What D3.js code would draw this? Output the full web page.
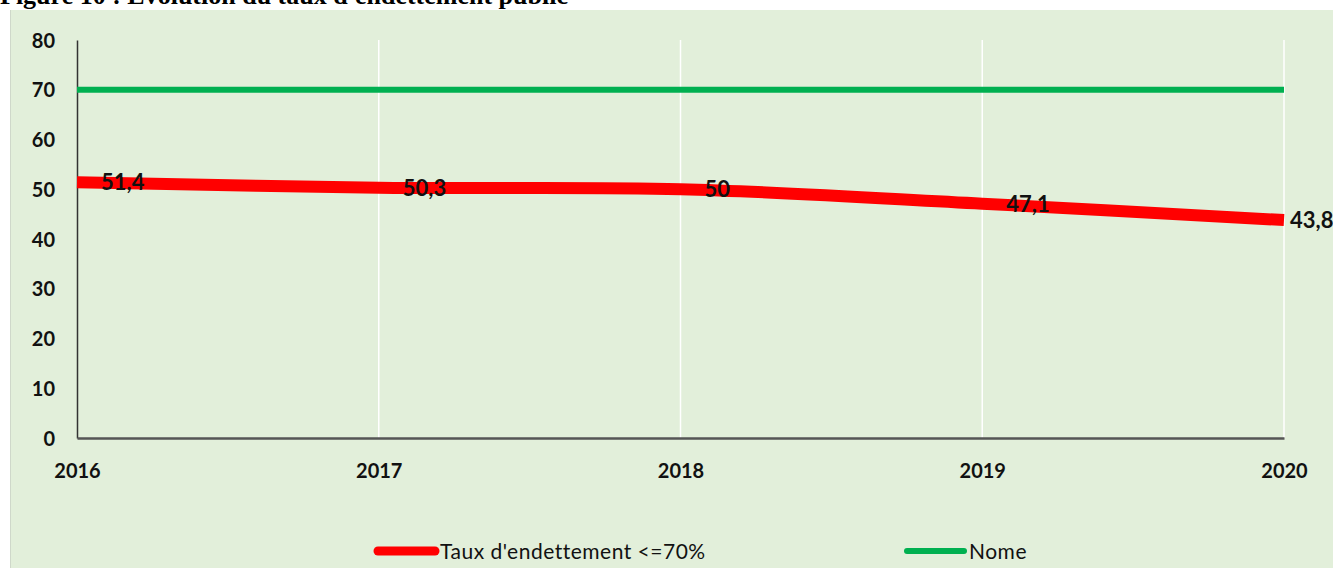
<!DOCTYPE html>
<html>
<head>
<meta charset="utf-8">
<script src="https://cdn.jsdelivr.net/npm/d3@7"></script>
<style>
  body { margin: 0; background: #fff; }
  svg { display: block; }
  .tick-lbl { font-family: Lato, "Open Sans", sans-serif; font-weight: bold; font-size: 20px; fill: #111; }
  .val-lbl { font-family: Lato, "Open Sans", sans-serif; font-weight: bold; font-size: 22px; fill: #111; }
  .leg-lbl { font-family: Lato, "Open Sans", sans-serif; font-size: 21px; letter-spacing: 0.5px; fill: #111; }
</style>
</head>
<body>
<div class="chart"></div>
<script>
var svgWidth = 1333;
var svgHeight = 568;

// data
var years = [2016, 2017, 2018, 2019, 2020];
var debtRate = [51.4, 50.3, 50, 47.1, 43.8];
var norm = [70, 70, 70, 70, 70];
var yTicks = [0, 10, 20, 30, 40, 50, 60, 70, 80];
var debtLabels = ["51,4", "50,3", "50", "47,1", "43,8"];
var seriesNames = ["Taux d'endettement  <=70%", "Nome"];

var svg = d3.select(".chart")
  .append("svg")
  .attr("width", svgWidth)
  .attr("height", svgHeight);

// title, cut off at the top like the source
svg.append("text")
  .attr("x", 0)
  .attr("y", 4)
  .style("font-family", "'Liberation Serif', serif")
  .style("font-weight", "bold")
  .style("font-size", "26px")
  .text("Figure 10 : Evolution du taux d'endettement public");

// panel background
svg.append("rect")
  .attr("x", 10)
  .attr("y", 10)
  .attr("width", svgWidth - 10)
  .attr("height", svgHeight - 10)
  .attr("fill", "#e2efda");
svg.append("line")
  .attr("x1", 10.5).attr("x2", 10.5)
  .attr("y1", 10).attr("y2", svgHeight)
  .attr("stroke", "#cfd8ca");

var x = d3.scaleLinear()
  .domain([2016, 2020])
  .range([77, 1284]);

var y = d3.scaleLinear()
  .domain([0, 80])
  .range([438, 40]);

// vertical white gridlines
svg.append("g")
  .selectAll("line")
  .data(years.slice(1))
  .enter()
  .append("line")
  .attr("x1", d => x(d)).attr("x2", d => x(d))
  .attr("y1", y(80)).attr("y2", y(0))
  .attr("stroke", "#ffffff")
  .attr("stroke-width", 1.5);

// y axis
var leftAxis = d3.axisLeft(y)
  .tickValues(yTicks)
  .tickSize(0)
  .tickPadding(22);
var yAxis = svg.append("g")
  .attr("transform", `translate(${x(2016)},0)`)
  .call(leftAxis);
yAxis.select(".domain").attr("stroke", "#333").attr("stroke-width", 1.5);
yAxis.selectAll("text").attr("class", "tick-lbl").attr("dy", "0.35em");

// x axis
var bottomAxis = d3.axisBottom(x)
  .tickValues(years)
  .tickFormat(d3.format("d"))
  .tickSize(0)
  .tickPadding(26);
var xAxis = svg.append("g")
  .attr("transform", `translate(0,${y(0)})`)
  .call(bottomAxis);
xAxis.select(".domain").attr("stroke", "#555").attr("stroke-width", 2.5);
xAxis.selectAll("text").attr("class", "tick-lbl");

// norm line
var normLine = d3.line()
  .x((d, i) => x(years[i]))
  .y(d => y(d));
svg.append("path")
  .datum(norm)
  .attr("d", normLine)
  .attr("fill", "none")
  .attr("stroke", "#00b050")
  .attr("stroke-width", 6);

// debt line (smoothed)
var debtLine = d3.line()
  .x((d, i) => x(years[i]))
  .y(d => y(d))
  .curve(d3.curveCatmullRom.alpha(0.5));
svg.append("path")
  .datum(debtRate)
  .attr("d", debtLine)
  .attr("fill", "none")
  .attr("stroke", "#ff0000")
  .attr("stroke-width", 12);

// value labels
svg.append("g")
  .selectAll("text")
  .data(debtRate)
  .enter()
  .append("text")
  .attr("class", "val-lbl")
  .attr("x", (d, i) => x(years[i]) + (i === years.length - 1 ? 6 : 24))
  .attr("y", d => y(d))
  .attr("dy", "0.36em")
  .text((d, i) => debtLabels[i]);

// legend
var legendItems = [
  { name: seriesNames[0], color: "#ff0000", width: 9, x0: 378 },
  { name: seriesNames[1], color: "#00b050", width: 6, x0: 907 }
];
var legend = svg.append("g");
legendItems.forEach(function(item) {
  legend.append("line")
    .attr("x1", item.x0).attr("x2", item.x0 + 57)
    .attr("y1", 551).attr("y2", 551)
    .attr("stroke", item.color)
    .attr("stroke-width", item.width)
    .attr("stroke-linecap", "round");
  legend.append("text")
    .attr("class", "leg-lbl")
    .attr("x", item.x0 + 62)
    .attr("y", 551)
    .attr("dy", "0.36em")
    .text(item.name);
});
</script>
</body>
</html>
